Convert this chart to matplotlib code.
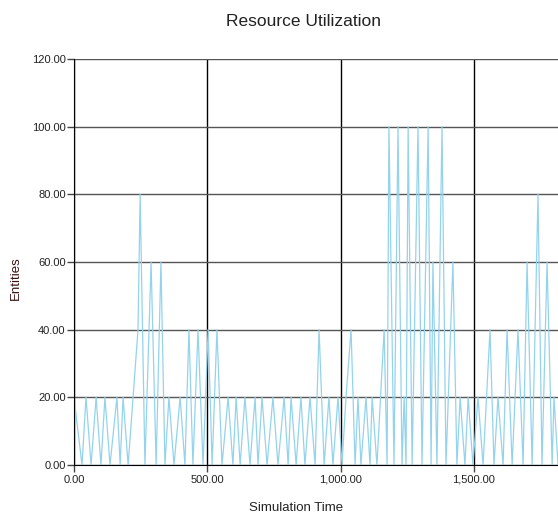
import matplotlib
matplotlib.use('Agg')
from matplotlib import pyplot as plt
from matplotlib.ticker import FuncFormatter, MultipleLocator

plt.rcParams['font.family'] = ['Liberation Sans', 'DejaVu Sans']

# simulation time / entities in use
time = [0, 30, 45, 64, 83, 101, 116, 135, 161, 173, 184, 203, 240, 248, 266, 289, 308, 326, 341,
        356, 375, 398, 416, 431, 446, 465, 484, 503, 518, 536, 555, 578, 596, 608, 623, 641, 660,
        679, 690, 705, 724, 746, 765, 788, 803, 814, 833, 851, 866, 885, 904, 919, 938, 956, 971,
        990, 1005, 1020, 1039, 1054, 1065, 1076, 1095, 1110, 1118, 1136, 1163, 1174, 1181, 1200,
        1215, 1230, 1238, 1245, 1253, 1268, 1290, 1305, 1328, 1339, 1346, 1361, 1380, 1395, 1421,
        1436, 1448, 1466, 1478, 1496, 1515, 1534, 1560, 1575, 1590, 1609, 1624, 1643, 1665, 1684,
        1699, 1718, 1740, 1755, 1774, 1793, 1800, 1815, 1830]
entities = [20, 0, 20, 0, 20, 0, 20, 0, 20, 0, 20, 0, 40, 80, 0, 60, 0, 60, 0,
            20, 0, 20, 0, 40, 0, 40, 0, 40, 0, 40, 0, 20, 0, 20, 0, 20, 0,
            20, 0, 20, 0, 20, 0, 20, 0, 20, 0, 20, 0, 20, 0, 40, 0, 20, 0,
            20, 0, 20, 40, 0, 20, 0, 20, 0, 20, 0, 40, 0, 100, 0,
            100, 0, 20, 0, 100, 0, 100, 0, 100, 0, 60, 0, 100, 0, 60,
            0, 20, 0, 20, 0, 20, 0, 40, 0, 20, 0, 40, 0, 40, 0,
            60, 0, 80, 0, 60, 0, 20, 0, 20]

fig = plt.figure(figsize=(5.58, 5.15), dpi=100)
ax = fig.add_axes([74/558, 50/515, 484/558, 406/515])

ax.plot(time, entities, color='#94d3ec', lw=0.9)

ax.set_xlim(0, 1815)
ax.set_ylim(0, 120)
ax.xaxis.set_major_locator(MultipleLocator(500))
ax.yaxis.set_major_locator(MultipleLocator(20))
fmt = FuncFormatter(lambda v, p: f'{v:,.2f}')
ax.xaxis.set_major_formatter(fmt)
ax.yaxis.set_major_formatter(fmt)

ax.grid(axis='x', color='black', lw=1)
ax.grid(axis='y', color='#555555', lw=1)
ax.set_axisbelow(True)
for s in ['top', 'right']:
    ax.spines[s].set_visible(False)
ax.spines['left'].set_color('black')
ax.spines['bottom'].set_color('black')
ax.tick_params(length=5, width=1, colors='#444444', labelsize=8, labelcolor='#222222', pad=1)
ax.tick_params(axis='x', pad=2)

fig.text(303/558, 1 - 22/515, 'Resource Utilization', ha='center', va='center',
         fontsize=12.5, color='#222222')
fig.text(296/558, 1 - 508/515, 'Simulation Time', ha='center', va='center',
         fontsize=9.5, color='#222222')
fig.text(16/558, 1 - 278/515, 'Entities', ha='center', va='center', rotation=90,
         fontsize=9.5, color='#3a1010')

fig.savefig('out.png', dpi=100)
